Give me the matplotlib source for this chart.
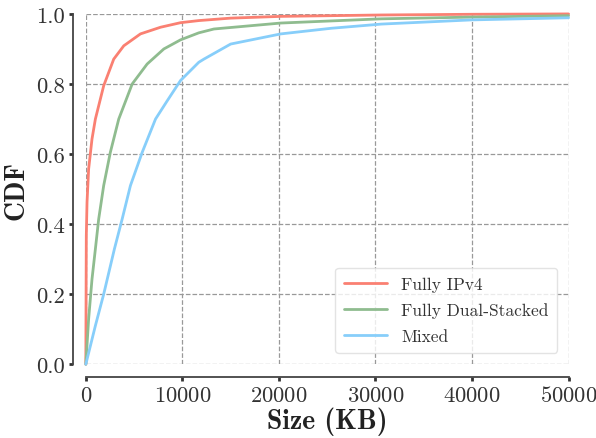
import matplotlib
matplotlib.use("Agg")
import matplotlib.pyplot as plt
import seaborn as sns

# CDF points
ipv4_x = [0, 20, 50, 125, 290, 640, 990, 1850, 2890, 3930, 5660, 7740, 9810, 11700,
          15000, 20200, 30600, 40000, 50000]
ipv4_y = [0, 0.15, 0.367, 0.463, 0.557, 0.643, 0.70, 0.795, 0.871, 0.909, 0.943, 0.962, 0.975, 0.981,
          0.988, 0.993, 0.997, 0.999, 1.0]

dual_x = [0, 290, 640, 990, 1330, 1850, 2540, 3410, 4800, 6350, 8080, 9810, 11700, 13270,
          20200, 30600, 40000, 50000]
dual_y = [0, 0.129, 0.243, 0.329, 0.414, 0.51, 0.605, 0.70, 0.80, 0.857, 0.90, 0.926, 0.946, 0.957,
          0.974, 0.986, 0.991, 0.995]

mixed_x = [0, 990, 1850, 2960, 3760, 4620, 5840, 7220, 8430, 9810, 11700, 12230, 15000, 20200,
           25400, 30600, 40000, 50000]
mixed_y = [0, 0.11, 0.2, 0.329, 0.414, 0.51, 0.605, 0.70, 0.752, 0.81, 0.862, 0.871, 0.914, 0.943,
           0.959, 0.971, 0.983, 0.989]

labels = ["Fully IPv4", "Fully Dual-Stacked", "Mixed"]
colors = ["#FA8072", "#8FBC8F", "#87CEFA"]

sns.set_style("ticks")
plt.rcParams["font.family"] = ["cmr10", "DejaVu Sans"]
plt.rcParams["mathtext.fontset"] = "cm"
plt.rcParams["axes.formatter.use_mathtext"] = True

fig, ax = plt.subplots(figsize=(5.96, 4.39), dpi=100)
fig.subplots_adjust(left=0.144, right=0.954, top=0.966, bottom=0.168)

for xs, ys, lab, c in zip([ipv4_x, dual_x, mixed_x], [ipv4_y, dual_y, mixed_y], labels, colors):
    ax.plot(xs, ys, color=c, lw=2, label=lab, clip_on=False)

ax.set_xlim(0, 50000)
ax.set_ylim(0, 1.0)
ax.set_xticks([0, 10000, 20000, 30000, 40000, 50000])
ax.set_yticks([0.0, 0.2, 0.4, 0.6, 0.8, 1.0])
ax.set_yticklabels(["0.0", "0.2", "0.4", "0.6", "0.8", "1.0"])
ax.grid(True, ls="--", color="#999999", lw=0.9)
ax.tick_params(labelsize=16.3, length=3, width=2, colors="#333333", labelcolor="#333333", pad=3)
for s in ["left", "bottom"]:
    ax.spines[s].set_color("#444444")
    ax.spines[s].set_linewidth(1.3)
    ax.spines[s].set_zorder(5)

ax.set_xlabel("Size (KB)", fontsize=20, family="cmb10", color="#222222", labelpad=1)
ax.set_ylabel("CDF", fontsize=20, family="cmb10", color="#222222", labelpad=5)

leg = ax.legend(loc="lower right", fontsize=12.5, frameon=True, fancybox=True,
                borderpad=0.5, labelspacing=0.62, handlelength=2.5,
                bbox_to_anchor=(1.0, 0.0), borderaxespad=0.65)
leg.get_frame().set_edgecolor("#dddddd")
for t in leg.get_texts():
    t.set_color("#333333")

sns.despine(ax=ax, offset=9, trim=True)
fig.savefig("out.png", dpi=100)
